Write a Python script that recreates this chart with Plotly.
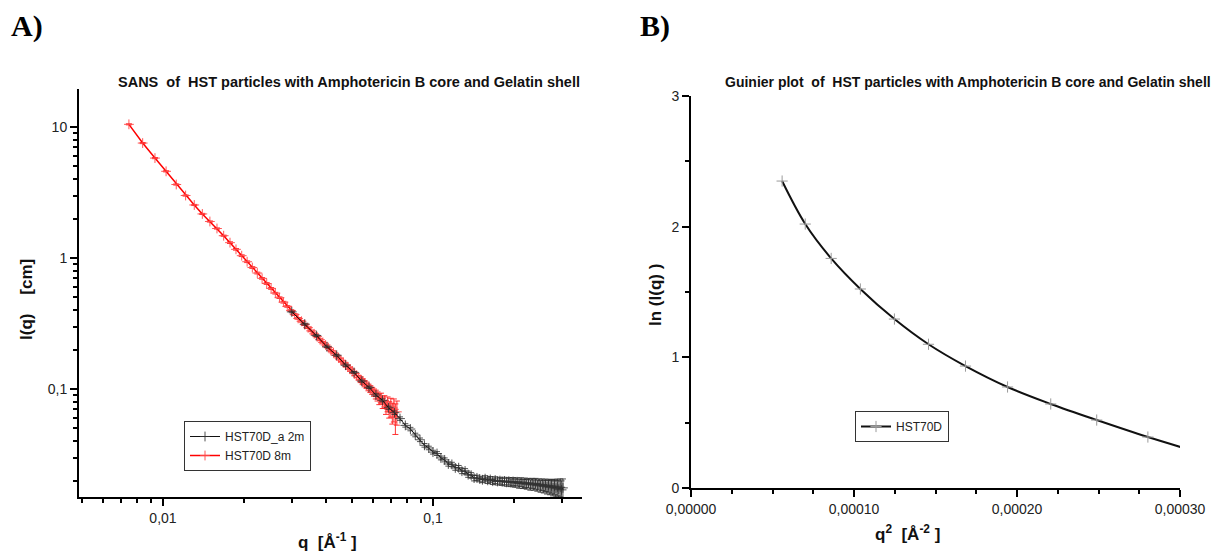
import plotly.graph_objects as go

# ---------------- data ----------------
# Panel A: SANS, 8 m detector distance (red)
q_8m = [0.00748, 0.00841, 0.00934, 0.01027, 0.01120, 0.01213, 0.01306, 0.01399, 0.01492, 0.01585,
        0.01678, 0.01771, 0.01864, 0.01957, 0.02050, 0.02143, 0.02236, 0.02329, 0.02422, 0.02515,
        0.02608, 0.02701, 0.02794, 0.02887, 0.02980, 0.03073, 0.03166, 0.03259, 0.03352, 0.03445,
        0.03538, 0.03631, 0.03724, 0.03817, 0.03910, 0.04003, 0.04096, 0.04189, 0.04282, 0.04375,
        0.04468, 0.04561, 0.04654, 0.04747, 0.04840, 0.04933, 0.05026, 0.05119, 0.05212, 0.05305,
        0.05398, 0.05491, 0.05584, 0.05677, 0.05770, 0.05863, 0.05956, 0.06049, 0.06142, 0.06235,
        0.06328, 0.06421, 0.06514, 0.06607, 0.06700, 0.06793, 0.06886, 0.06979, 0.07072, 0.07165,
        0.07258, 0.07351]
I_8m = [10.48, 7.54, 5.79, 4.59, 3.64, 3.00, 2.54, 2.17, 1.90, 1.68,
        1.48, 1.31, 1.165, 1.042, 0.937, 0.846, 0.768, 0.699, 0.639, 0.586,
        0.539, 0.498, 0.460, 0.427, 0.397, 0.370, 0.346, 0.329, 0.310, 0.294,
        0.278, 0.264, 0.251, 0.238, 0.227, 0.217, 0.207, 0.197, 0.189, 0.181,
        0.173, 0.166, 0.160, 0.153, 0.147, 0.142, 0.137, 0.131, 0.127, 0.122,
        0.118, 0.114, 0.110, 0.107, 0.103, 0.100, 0.097, 0.094, 0.091, 0.088,
        0.084, 0.085, 0.079, 0.080, 0.073, 0.077, 0.070, 0.073, 0.066, 0.070,
        0.061, 0.067]
err_8m = [0.10, 0.075, 0.058, 0.046, 0.036, 0.030, 0.025, 0.022, 0.019, 0.017,
          0.015, 0.020, 0.017, 0.016, 0.014, 0.013, 0.012, 0.010, 0.010, 0.009,
          0.008, 0.007, 0.007, 0.006, 0.006, 0.006, 0.005, 0.005, 0.005, 0.004,
          0.004, 0.004, 0.004, 0.004, 0.003, 0.003, 0.003, 0.003, 0.003, 0.003,
          0.003, 0.004, 0.004, 0.005, 0.005, 0.005, 0.005, 0.005, 0.005, 0.005,
          0.006, 0.006, 0.006, 0.006, 0.006, 0.006, 0.006, 0.006, 0.007, 0.007,
          0.008, 0.008, 0.008, 0.009, 0.009, 0.010, 0.010, 0.012, 0.012, 0.014,
          0.016, 0.014]

# Panel A: SANS, 2 m detector distance (black)
q_2m = [0.0300, 0.0335, 0.0370, 0.0405, 0.0440, 0.0475, 0.0510, 0.0545, 0.0580, 0.0615,
        0.0650, 0.0685, 0.0720, 0.0755, 0.0790, 0.0825, 0.0860, 0.0895, 0.0930, 0.0965,
        0.1000, 0.1035, 0.1070, 0.1105, 0.1140, 0.1175, 0.1210, 0.1245, 0.1280, 0.1315,
        0.1350, 0.1385, 0.1420, 0.1455, 0.1490, 0.1525, 0.1560, 0.1595, 0.1630, 0.1665,
        0.1700, 0.1735, 0.1770, 0.1805, 0.1840, 0.1875, 0.1910, 0.1945, 0.1980, 0.2015,
        0.2050, 0.2085, 0.2120, 0.2155, 0.2190, 0.2225, 0.2260, 0.2295, 0.2330, 0.2365,
        0.2400, 0.2435, 0.2470, 0.2505, 0.2540, 0.2575, 0.2610, 0.2645, 0.2680, 0.2715,
        0.2750, 0.2785, 0.2820, 0.2855, 0.2890, 0.2925, 0.2960, 0.2995, 0.3030]
I_2m = [0.388, 0.313, 0.256, 0.210, 0.181, 0.152, 0.134, 0.115, 0.103, 0.090,
        0.082, 0.072, 0.066, 0.0595, 0.0528, 0.0495, 0.0446, 0.0410, 0.0372, 0.0355,
        0.0330, 0.0322, 0.0298, 0.0288, 0.0268, 0.0266, 0.0250, 0.0251, 0.0236, 0.0237,
        0.0222, 0.0220, 0.0209, 0.0210, 0.0206, 0.0203, 0.0207, 0.0201, 0.0204, 0.0198,
        0.0202, 0.0197, 0.0200, 0.0196, 0.0199, 0.0194, 0.0198, 0.0193, 0.0197, 0.0192,
        0.0196, 0.0190, 0.0195, 0.0189, 0.0193, 0.0188, 0.0192, 0.0186, 0.0191, 0.0186,
        0.0190, 0.0184, 0.0188, 0.0182, 0.0187, 0.0181, 0.0185, 0.0179, 0.0184, 0.0178,
        0.0182, 0.0176, 0.0181, 0.0175, 0.0179, 0.0172, 0.0178, 0.0170, 0.0176]
err_2m = [0.006, 0.005, 0.004, 0.003, 0.003, 0.003, 0.002, 0.002, 0.002, 0.002,
          0.002, 0.002, 0.002, 0.0018, 0.0016, 0.0015, 0.0014, 0.0013, 0.0012, 0.0011,
          0.0011, 0.0011, 0.0010, 0.0010, 0.0010, 0.0010, 0.0010, 0.0010, 0.0010, 0.0010,
          0.0010, 0.0010, 0.0010, 0.0010, 0.0010, 0.0010, 0.0011, 0.0011, 0.0011, 0.0011,
          0.0012, 0.0012, 0.0012, 0.0012, 0.0013, 0.0013, 0.0013, 0.0013, 0.0014, 0.0014,
          0.0014, 0.0015, 0.0015, 0.0015, 0.0016, 0.0016, 0.0016, 0.0017, 0.0017, 0.0017,
          0.0018, 0.0018, 0.0018, 0.0019, 0.0019, 0.0020, 0.0020, 0.0021, 0.0021, 0.0022,
          0.0022, 0.0023, 0.0024, 0.0025, 0.0026, 0.0027, 0.0028, 0.0029, 0.0030]

# Panel B: Guinier plot
guinier_q2 = [0.0000559, 0.0000701, 0.0000860, 0.0001039, 0.0001248, 0.0001457,
              0.0001684, 0.0001942, 0.0002207, 0.0002489, 0.0002803, 0.0003122]
guinier_lnI = [2.349, 2.020, 1.757, 1.523, 1.293, 1.100,
               0.933, 0.773, 0.643, 0.520, 0.390, 0.270]

# tick labels
a_x_tickvals = [0.01, 0.1]
a_x_ticktext = ["0,01", "0,1"]
a_y_tickvals = [0.1, 1, 10]
a_y_ticktext = ["0,1", "1", "10"]
b_x_tickvals = [0.0, 0.0001, 0.0002, 0.0003]
b_x_ticktext = ["0,00000", "0,00010", "0,00020", "0,00030"]
b_y_tickvals = [0, 1, 2, 3]
b_y_ticktext = ["0", "1", "2", "3"]

# ---------------- figure ----------------
W, H = 1216, 552


def px(x):
    return x / W


def py(y):
    return 1 - y / H


FONT = "Liberation Sans, Arial, sans-serif"
SERIF = "Liberation Serif, Times New Roman, serif"

fig = go.Figure()

fig.add_trace(go.Scatter(
    x=q_8m, y=I_8m, name="HST70D 8m", mode="lines+markers",
    error_y=dict(type="data", array=err_8m, color="rgba(255,30,30,0.9)", thickness=1, width=3),
    line=dict(color="#ff0000", width=1.5),
    marker=dict(symbol="cross-thin", size=7, line=dict(color="rgba(255,70,70,0.9)", width=1)),
    xaxis="x", yaxis="y", legend="legend", legendrank=2,
))
fig.add_trace(go.Scatter(
    x=q_2m, y=I_2m, name="HST70D_a 2m", mode="lines+markers",
    error_y=dict(type="data", array=err_2m, color="rgba(40,40,40,0.8)", thickness=1, width=3),
    line=dict(color="#111111", width=1),
    marker=dict(symbol="cross-thin", size=7, line=dict(color="rgba(50,50,50,0.85)", width=1)),
    xaxis="x", yaxis="y", legend="legend", legendrank=1,
))
fig.add_trace(go.Scatter(
    x=guinier_q2, y=guinier_lnI, name="HST70D", mode="lines+markers",
    line=dict(color="#111111", width=2, shape="spline"),
    marker=dict(symbol="cross-thin", size=8, line=dict(color="#9a9a9a", width=1)),
    xaxis="x2", yaxis="y2", legend="legend2",
))

axis_common = dict(
    showline=True, linecolor="black", linewidth=2, mirror=False, automargin=False,
    showgrid=False, zeroline=False, ticks="outside", ticklen=7, tickwidth=2,
    tickcolor="black", tickfont=dict(family=FONT, size=14, color="#222"),
)

fig.update_layout(
    width=W, height=H, margin=dict(l=0, r=0, t=0, b=0, autoexpand=False),
    paper_bgcolor="white", plot_bgcolor="white",
    font=dict(family=FONT, color="black"),
    xaxis=dict(axis_common, type="log", domain=[px(79), px(582)], range=[-2.311, -0.448],
               anchor="y", tickmode="array", tickvals=a_x_tickvals, ticktext=a_x_ticktext,
               minor=dict(ticks="outside", ticklen=4, tickwidth=1.5, tickcolor="black", dtick="D1")),
    yaxis=dict(axis_common, type="log", domain=[py(497), py(89)], range=[-1.824, 1.290],
               anchor="x", tickmode="array", tickvals=a_y_tickvals, ticktext=a_y_ticktext,
               minor=dict(ticks="outside", ticklen=4, tickwidth=1.5, tickcolor="black", dtick="D1")),
    xaxis2=dict(axis_common, domain=[px(691), px(1180)], range=[0, 0.0003], anchor="y2",
                tickmode="array", tickvals=b_x_tickvals, ticktext=b_x_ticktext,
                minor=dict(ticks="outside", ticklen=4, tickwidth=1.5, tickcolor="black",
                           tickmode="linear", tick0=0, dtick=0.000025)),
    yaxis2=dict(axis_common, domain=[py(488), py(96)], range=[0, 3], anchor="x2",
                tickmode="array", tickvals=b_y_tickvals, ticktext=b_y_ticktext,
                minor=dict(ticks="outside", ticklen=4, tickwidth=1.5, tickcolor="black",
                           tickmode="linear", tick0=0, dtick=0.5)),
    showlegend=True,
    legend=dict(x=px(184), y=py(421), xanchor="left", yanchor="top",
                bgcolor="white", bordercolor="#333", borderwidth=1,
                font=dict(family=FONT, size=12, color="#222"),
                tracegroupgap=0, itemwidth=30),
    legend2=dict(x=px(855), y=py(411), xanchor="left", yanchor="top",
                 bgcolor="white", bordercolor="#333", borderwidth=1,
                 font=dict(family=FONT, size=12, color="#222"),
                 itemwidth=30),
)

NB = "\u00a0"
annotations = [
    dict(text="<b>A)</b>", x=px(9), y=py(26), xanchor="left", yanchor="middle",
         font=dict(family=SERIF, size=30, color="black")),
    dict(text="<b>B)</b>", x=px(638), y=py(26), xanchor="left", yanchor="middle",
         font=dict(family=SERIF, size=30, color="black")),
    dict(text="<b>SANS" + NB * 2 + "of" + NB * 2 + "HST particles with Amphotericin B core and Gelatin shell</b>",
         x=px(349), y=py(82), xanchor="center", yanchor="middle",
         font=dict(family=FONT, size=14.5, color="#111")),
    dict(text="<b>Guinier plot" + NB * 2 + "of" + NB * 2 + "HST particles with Amphotericin B core and Gelatin shell</b>",
         x=px(968), y=py(82), xanchor="center", yanchor="middle",
         font=dict(family=FONT, size=14, color="#111")),
    dict(text="<b>I(q)" + NB * 4 + "[cm]</b>", x=px(26), y=py(300), textangle=-90,
         xanchor="center", yanchor="middle", font=dict(family=FONT, size=17, color="#111")),
    dict(text="<b>q" + NB * 2 + "[Å<sup>-1</sup> ]</b>", x=px(327), y=py(541),
         xanchor="center", yanchor="middle", font=dict(family=FONT, size=17, color="#111")),
    dict(text="<b>ln (I(q) )</b>", x=px(655), y=py(295), textangle=-90,
         xanchor="center", yanchor="middle", font=dict(family=FONT, size=17, color="#111")),
    dict(text="<b>q<sup>2</sup>" + NB * 2 + "[Å<sup>-2</sup> ]</b>", x=px(907), y=py(533),
         xanchor="center", yanchor="middle", font=dict(family=FONT, size=17, color="#111")),
]
for a in annotations:
    a.update(xref="paper", yref="paper", showarrow=False)
fig.update_layout(annotations=annotations)

fig.write_html("out.html", config={"displayModeBar": False},
               post_script="document.body.style.margin='0px';")
